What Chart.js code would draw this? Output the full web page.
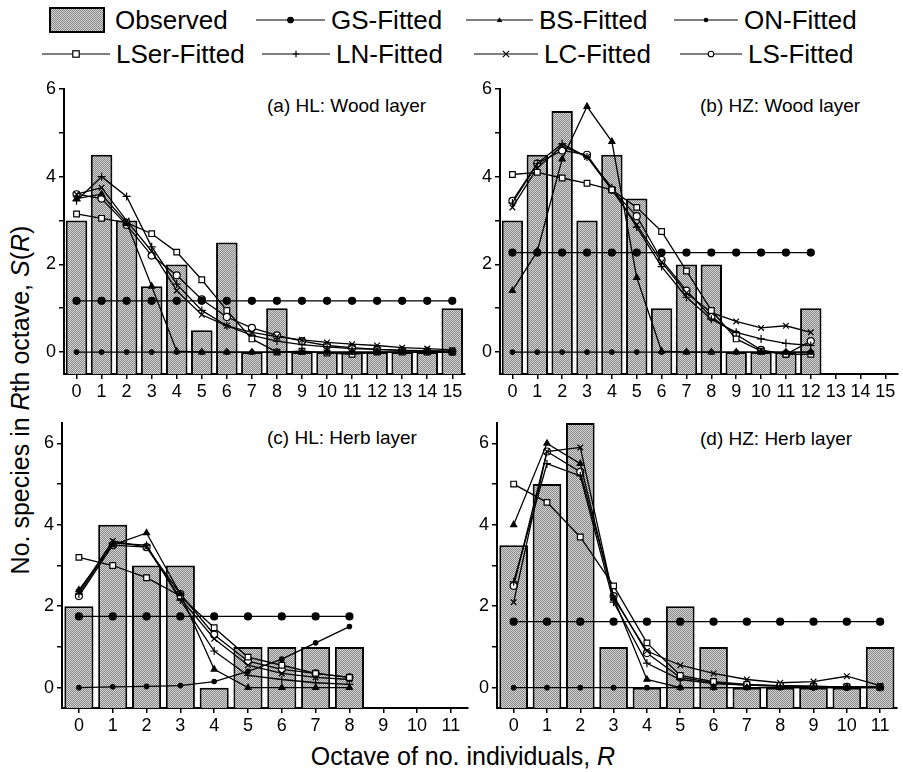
<!DOCTYPE html>
<html>
<head>
<meta charset="utf-8">
<script src="https://cdn.jsdelivr.net/npm/chart.js@4/dist/chart.umd.min.js"></script>
<style>
body { margin: 0; background: #fff; width: 903px; height: 772px; position: relative; overflow: hidden;
       font-family: 'Liberation Sans', Arial, sans-serif; color: #000; }
canvas { position: absolute; }
.t { position: absolute; white-space: nowrap; line-height: 1; }
.leg { font-size: 26px; }
.ptitle { font-size: 19px; }
</style>
</head>
<body>
<div id="legend"></div>
<div class="t ptitle" style="left:267px;top:96px">(a) HL: Wood layer</div>
<div class="t ptitle" style="left:700px;top:96px">(b) HZ: Wood layer</div>
<div class="t ptitle" style="left:267px;top:428px">(c) HL: Herb layer</div>
<div class="t ptitle" style="left:700px;top:429px">(d) HZ: Herb layer</div>
<div class="t" style="font-size:25px;left:20px;top:400px;transform:translate(-50%,-50%) rotate(-90deg)">No. species in <i>R</i>th octave, <i>S</i>(<i>R</i>)</div>
<div class="t" style="font-size:25px;left:463px;top:756px;transform:translate(-50%,-50%)">Octave of no. individuals, <i>R</i></div>
<canvas id="pa"></canvas>
<canvas id="pb"></canvas>
<canvas id="pc"></canvas>
<canvas id="pd"></canvas>
<script>
// octave labels
const octAB = ['0','1','2','3','4','5','6','7','8','9','10','11','12','13','14','15'];
const octCD = ['0','1','2','3','4','5','6','7','8','9','10','11'];
// y tick values (labels only on the even ones)
const yTicks = [0, 1, 2, 3, 4, 5, 6];

// (a) HL: Wood layer
const obsA  = [3, 4.5, 3, 1.5, 2, 0.5, 2.5, 0, 1, 0, 0, 0, 0, 0, 0, 1];
const gsA   = [1.17, 1.17, 1.17, 1.17, 1.17, 1.17, 1.17, 1.17, 1.17, 1.17, 1.17, 1.17, 1.17, 1.17, 1.17, 1.17];
const bsA   = [3.5, 3.6, 2.95, 1.5, 0.02, 0, 0, 0, 0, 0, 0, 0, 0, 0, 0, 0];
const onA   = [0, 0, 0, 0, 0, 0, 0, 0, 0, 0, 0, 0, 0, 0, 0, 0];
const lserA = [3.15, 3.05, 2.95, 2.7, 2.28, 1.65, 0.95, 0.3, 0.0, 0.02, -0.02, -0.05, 0, 0, 0, 0];
const lnA   = [3.45, 4.0, 3.55, 2.4, 1.55, 0.95, 0.6, 0.38, 0.25, 0.17, 0.12, 0.08, 0.06, 0.04, 0.03, 0.02];
const lcA   = [3.6, 3.75, 3.0, 2.3, 1.4, 0.85, 0.6, 0.45, 0.35, 0.28, 0.22, 0.18, 0.15, 0.1, 0.08, 0.05];
const lsA   = [3.6, 3.5, 2.9, 2.2, 1.75, 1.2, 0.8, 0.55, 0.38, 0.25, 0.15, 0.1, 0.06, 0.04, 0.02, 0.01];

// (b) HZ: Wood layer
const obsB  = [3, 4.5, 5.5, 3, 4.5, 3.5, 1, 2, 2, 0, 0, 0, 1];
const gsB   = [2.27, 2.27, 2.27, 2.27, 2.27, 2.27, 2.27, 2.27, 2.27, 2.27, 2.27, 2.27, 2.27];
const bsB   = [1.4, 2.3, 4.4, 5.6, 4.8, 1.7, 0.02, 0, 0, 0, 0, 0, 0];
const onB   = [0, 0, 0, 0, 0, 0, 0, 0, 0, 0, 0, 0, 0];
const lserB = [4.05, 4.1, 3.97, 3.85, 3.7, 3.3, 2.75, 1.85, 0.95, 0.3, 0.02, -0.05, -0.05];
const lnB   = [3.4, 4.3, 4.75, 4.45, 3.75, 2.85, 1.95, 1.25, 0.75, 0.45, 0.3, 0.2, 0.15];
const lcB   = [3.3, 4.2, 4.7, 4.45, 3.7, 2.9, 2.05, 1.35, 0.9, 0.7, 0.55, 0.6, 0.45];
const lsB   = [3.45, 4.3, 4.6, 4.5, 3.7, 3.1, 2.1, 1.4, 0.8, 0.4, 0.05, -0.05, 0.25];

// (c) HL: Herb layer
const obsC  = [2, 4, 3, 3, 0, 1, 1, 1, 1];
const gsC   = [1.75, 1.75, 1.75, 1.75, 1.75, 1.75, 1.75, 1.75, 1.75];
const bsC   = [2.4, 3.5, 3.8, 2.3, 0.45, 0, 0, 0, 0];
const onC   = [0, 0.02, 0.03, 0.05, 0.15, 0.4, 0.7, 1.1, 1.5];
const lserC = [3.2, 3.0, 2.7, 2.25, 1.47, 0.75, 0.55, 0.35, 0.25];
const lnC   = [2.3, 3.55, 3.5, 2.15, 0.9, 0.3, 0.2, 0.12, 0.08];
const lcC   = [2.35, 3.6, 3.45, 2.2, 1.2, 0.55, 0.35, 0.25, 0.2];
const lsC   = [2.25, 3.5, 3.45, 2.3, 1.3, 0.65, 0.45, 0.35, 0.25];

// (d) HZ: Herb layer
const obsD  = [3.5, 5, 6.5, 1, 0, 2, 1, 0, 0, 0, 0, 1];
const gsD   = [1.62, 1.62, 1.62, 1.62, 1.62, 1.62, 1.62, 1.62, 1.62, 1.62, 1.62, 1.62];
const bsD   = [4.0, 6.0, 5.5, 2.2, 0.2, 0, 0, 0, 0, 0, 0, 0];
const onD   = [0, 0, 0, 0, 0, 0, 0, 0, 0, 0, 0, 0];
const lserD = [5.0, 4.55, 3.7, 2.5, 1.1, 0.3, 0.15, 0.08, 0.05, 0.03, 0.02, 0.01];
const lnD   = [2.6, 5.5, 5.2, 2.1, 0.6, 0.2, 0.1, 0.06, 0.04, 0.03, 0.02, 0.01];
const lcD   = [2.1, 5.8, 5.9, 2.2, 0.9, 0.55, 0.35, 0.2, 0.12, 0.15, 0.28, 0.05];
const lsD   = [2.5, 5.8, 5.3, 2.25, 0.85, 0.25, 0.12, 0.06, 0.04, 0.03, 0.02, 0.01];

const FONT = "'Liberation Sans', Arial, sans-serif";

// series look (shared by charts and legend)
const seriesStyle = {
    GS:   { pointStyle: 'circle',   radius: 3.5, fill: '#000' },
    BS:   { pointStyle: 'triangle', radius: 3.5, fill: '#000' },
    ON:   { pointStyle: 'circle',   radius: 2.2, fill: '#000' },
    LSer: { pointStyle: 'rect',     radius: 4,   fill: '#fff' },
    LN:   { pointStyle: 'cross',    radius: 4,   fill: '#000' },
    LC:   { pointStyle: 'crossRot', radius: 4,   fill: '#000' },
    LS:   { pointStyle: 'circle',   radius: 3.5, fill: '#fff' }
};

// dithered grey like the scanned bars
const pcv = document.createElement('canvas');
pcv.width = 2; pcv.height = 2;
const pctx = pcv.getContext('2d');
pctx.fillStyle = '#d2d2d2'; pctx.fillRect(0, 0, 2, 2);
pctx.fillStyle = '#8a8a8a'; pctx.fillRect(0, 0, 1, 1); pctx.fillRect(1, 1, 1, 1);
const barPattern = pctx.createPattern(pcv, 'repeat');

function lineSet(name, data) {
    const s = seriesStyle[name];
    return {
        type: 'line',
        label: name + '-Fitted',
        data: data,
        borderColor: '#000',
        borderWidth: 1.3,
        pointStyle: s.pointStyle,
        pointRadius: s.radius,
        pointBackgroundColor: s.fill,
        pointBorderColor: '#000',
        pointBorderWidth: 1.2,
        fill: false,
        tension: 0,
        order: 0
    };
}

function makePanel(id, area, labels, obs, fits, yMax) {
    const padL = 50, padT = 14, padB = 42, padR = 903 - area.right > 3 ? 4 : 1;
    const cv = document.getElementById(id);
    cv.width = area.right - area.left + padL + padR;
    cv.height = area.bottom - area.top + padT + padB;
    cv.style.left = (area.left - padL) + 'px';
    cv.style.top = (area.top - padT) + 'px';

    const datasets = [{
        type: 'bar',
        label: 'Observed',
        data: obs,
        base: -0.5,
        backgroundColor: barPattern,
        borderColor: '#000',
        borderWidth: 2,
        borderSkipped: 'bottom',
        barPercentage: 0.86,
        categoryPercentage: 1,
        order: 10
    }];
    for (const [name, data] of fits) datasets.push(lineSet(name, data));

    new Chart(cv, {
        type: 'bar',
        data: { labels: labels, datasets: datasets },
        options: {
            responsive: false,
            animation: false,
            devicePixelRatio: 1,
            layout: { padding: { left: 0, top: padT, right: padR, bottom: 0 } },
            plugins: { legend: { display: false }, tooltip: { enabled: false } },
            scales: {
                x: {
                    offset: true,
                    grid: { offset: false, drawOnChartArea: false, color: '#000', tickLength: 5, lineWidth: 1.5 },
                    border: { color: '#000', width: 2 },
                    ticks: { autoSkip: false, maxRotation: 0, minRotation: 0, color: '#000', padding: 2,
                             font: { family: FONT, size: 18 } },
                    afterFit: s => { s.height = padB; }
                },
                y: {
                    min: -0.5,
                    max: yMax,
                    ticks: {
                        color: '#000', padding: 3,
                        font: { family: FONT, size: 18 },
                        callback: v => (v % 2 === 0 ? v : '')
                    },
                    afterBuildTicks: s => { s.ticks = yTicks.map(v => ({ value: v })); },
                    grid: { drawOnChartArea: false, color: '#000', tickLength: 5, lineWidth: 1.5 },
                    border: { color: '#000', width: 2 },
                    afterFit: s => { s.width = padL; }
                }
            }
        }
    });
}

makePanel('pa', { left: 64, right: 466, top: 89, bottom: 374 }, octAB, obsA,
    [['GS', gsA], ['BS', bsA], ['ON', onA], ['LSer', lserA], ['LN', lnA], ['LC', lcA], ['LS', lsA]], 6);
makePanel('pb', { left: 500, right: 902, top: 89, bottom: 374 }, octAB, obsB,
    [['GS', gsB], ['BS', bsB], ['ON', onB], ['LSer', lserB], ['LN', lnB], ['LC', lcB], ['LS', lsB]], 6);
makePanel('pc', { left: 62, right: 469, top: 423, bottom: 708 }, octCD, obsC,
    [['GS', gsC], ['BS', bsC], ['ON', onC], ['LSer', lserC], ['LN', lnC], ['LC', lcC], ['LS', lsC]], 6.5);
makePanel('pd', { left: 497, right: 901, top: 423, bottom: 708 }, octCD, obsD,
    [['GS', gsD], ['BS', bsD], ['ON', onD], ['LSer', lserD], ['LN', lnD], ['LC', lcD], ['LS', lsD]], 6.5);

// legend, drawn as html + svg
function markerSvg(name, cx, cy) {
    const s = seriesStyle[name], r = s.radius * 0.8;
    switch (s.pointStyle) {
        case 'circle':
            return `<circle cx="${cx}" cy="${cy}" r="${r}" fill="${s.fill}" stroke="#000" stroke-width="1.1"/>`;
        case 'triangle':
            return `<polygon points="${cx},${cy - r} ${cx + r},${cy + r * 0.7} ${cx - r},${cy + r * 0.7}" fill="#000"/>`;
        case 'rect':
            return `<rect x="${cx - r}" y="${cy - r}" width="${2 * r}" height="${2 * r}" fill="#fff" stroke="#000" stroke-width="1.2"/>`;
        case 'cross':
            return `<path d="M${cx - r} ${cy}H${cx + r}M${cx} ${cy - r}V${cy + r}" stroke="#000" stroke-width="1.2"/>`;
        case 'crossRot':
            return `<path d="M${cx - r} ${cy - r}L${cx + r} ${cy + r}M${cx + r} ${cy - r}L${cx - r} ${cy + r}" stroke="#000" stroke-width="1.2"/>`;
    }
    return '';
}

const legendItems = [
    { name: 'GS',   x1: 256, x2: 325, tx: 331, y: 20 },
    { name: 'BS',   x1: 466, x2: 533, tx: 539, y: 20 },
    { name: 'ON',   x1: 674, x2: 738, tx: 744, y: 20 },
    { name: 'LSer', x1: 42,  x2: 110, tx: 116, y: 54 },
    { name: 'LN',   x1: 262, x2: 330, tx: 336, y: 54 },
    { name: 'LC',   x1: 474, x2: 538, tx: 544, y: 54 },
    { name: 'LS',   x1: 680, x2: 742, tx: 748, y: 54 }
];

let html = `<svg style="position:absolute;left:0;top:0" width="903" height="80">
<defs><pattern id="dith" width="2" height="2" patternUnits="userSpaceOnUse">
<rect width="2" height="2" fill="#d2d2d2"/><rect width="1" height="1" fill="#8a8a8a"/><rect x="1" y="1" width="1" height="1" fill="#8a8a8a"/>
</pattern></defs>
<rect x="50" y="8" width="54" height="24" fill="url(#dith)" stroke="#000" stroke-width="2"/>`;
for (const it of legendItems) {
    const cx = (it.x1 + it.x2) / 2;
    html += `<line x1="${it.x1}" y1="${it.y}" x2="${it.x2}" y2="${it.y}" stroke="#000" stroke-width="1.2"/>`;
    html += markerSvg(it.name, cx, it.y);
}
html += '</svg>';
html += `<div class="t leg" style="left:115px;top:${20 - 13}px">Observed</div>`;
for (const it of legendItems) {
    html += `<div class="t leg" style="left:${it.tx}px;top:${it.y - 13}px">${it.name}-Fitted</div>`;
}
document.getElementById('legend').innerHTML = html;
</script>
</body>
</html>
